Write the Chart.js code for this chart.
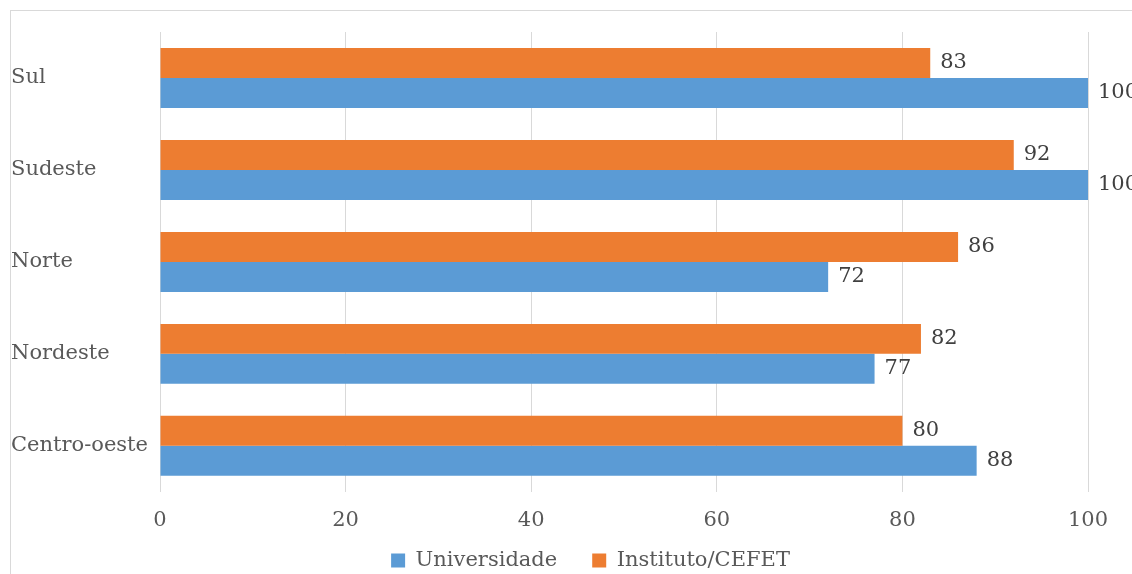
<!DOCTYPE html>
<html>
<head>
<meta charset="utf-8">
<script src="https://cdn.jsdelivr.net/npm/chart.js@4.4.0/dist/chart.umd.min.js"></script>
<style>
  html, body { margin: 0; padding: 0; background: #fff; overflow: hidden; }
  #moldura { position: absolute; left: 10px; top: 10px; width: 1300px; height: 700px; border: 1px solid #d9d9d9; }
  #grafico { position: absolute; left: 0; top: 0; }
</style>
</head>
<body>
<div id="moldura"></div>
<canvas id="grafico" width="1132" height="574"></canvas>
<script>
// dados do gráfico
const regioes = ['Sul', 'Sudeste', 'Norte', 'Nordeste', 'Centro-oeste']
const universidade = [100, 100, 72, 77, 88]
const instituto = [83, 92, 86, 82, 80]
const ticksX = [0, 20, 40, 60, 80, 100]

const fonte = 'DejaVu Serif'
const corTexto = '#595959'

// PLUGIN PARA ESCREVER OS VALORES NA PONTA DAS BARRAS
const rotulos = {
    id: 'rotulos',
    afterDatasetsDraw(chart) {
        const ctx = chart.ctx
        ctx.save()
        ctx.font = `21px "${fonte}"`
        ctx.fillStyle = '#404040'
        ctx.textAlign = 'left'
        ctx.textBaseline = 'middle'
        chart.data.datasets.forEach((ds, i) => {
            chart.getDatasetMeta(i).data.forEach((barra, j) => {
                ctx.fillText(ds.data[j], barra.x + 10, barra.y)
            })
        })
        ctx.restore()
    }
}

// PLUGIN PARA POSICIONAR A LEGENDA COMO NO ORIGINAL
const ajusteLegenda = {
    id: 'ajusteLegenda',
    afterLayout(chart) {
        const lg = chart.legend
        lg.left += 41
        lg.right += 41
        lg.top -= 34
        lg.bottom -= 34
    }
}

const ctx = document.querySelector('#grafico').getContext('2d')
new Chart(ctx, {
    type: 'bar',
    data: {
        labels: regioes,
        datasets: [
            {
                label: 'Instituto/CEFET',
                data: instituto,
                backgroundColor: '#ED7D31',
                categoryPercentage: 0.652,
                barPercentage: 1
            },
            {
                label: 'Universidade',
                data: universidade,
                backgroundColor: '#5B9BD5',
                categoryPercentage: 0.652,
                barPercentage: 1
            }
        ]
    },
    options: {
        indexAxis: 'y',
        responsive: false,
        animation: false,
        layout: { padding: { left: 11, right: 44, top: 32, bottom: -41 } },
        scales: {
            x: {
                min: 0,
                max: 100,
                afterBuildTicks: (scale) => { scale.ticks = ticksX.map(v => ({ value: v })) },
                grid: { color: '#d9d9d9', drawTicks: false },
                border: { display: false },
                ticks: { padding: 16, color: corTexto, font: { family: fonte, size: 21 } }
            },
            y: {
                afterFit: (scale) => { scale.width = 149 },
                grid: { display: false },
                border: { display: false },
                ticks: { crossAlign: 'far', color: corTexto, font: { family: fonte, size: 21 } }
            }
        },
        plugins: {
            legend: {
                position: 'bottom',
                reverse: true,
                labels: {
                    boxWidth: 14,
                    boxHeight: 14,
                    padding: 35,
                    color: corTexto,
                    font: { family: fonte, size: 21 }
                }
            },
            tooltip: { enabled: false }
        }
    },
    plugins: [rotulos, ajusteLegenda]
})
</script>
</body>
</html>
